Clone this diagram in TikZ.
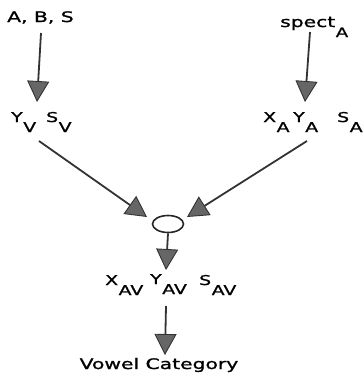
\documentclass[tikz,border=0pt]{standalone}
\usepackage{fontspec}
\setmainfont{DejaVu Sans}[FakeStretch=1.4,FakeBold=1.2]
\usetikzlibrary{arrows.meta,shapes.geometric}
% base letter with a deeply lowered subscript
\newcommand\lowsub[2]{#1\kern0.5pt\raisebox{-10pt}{#2}}
\begin{document}
\begin{tikzpicture}[x=1pt,y=-1pt,
  lbl/.style={inner sep=0pt, anchor=base west, font=\fontsize{13.5}{16}\selectfont},
  big/.style={inner sep=0pt, font=\fontsize{14.5}{17}\selectfont},
  flow/.style={draw=black!80, line width=1.8pt,
    -{Triangle[length=21pt,width=22pt,fill=black!60,line width=0.9pt]}}]
\useasboundingbox (0,0) rectangle (364,376);

% inputs
\node[big, anchor=base west] (abs) at (7,22) {A, B, S};
\node[big, anchor=base west] (spect) at (280,27) {\lowsub{spect}{\fontsize{13}{15}\selectfont A}};

% visual parameters
\node[lbl] (yv) at (11,122) {\lowsub{Y}{V}};
\node[lbl] (sv) at (46,122) {\lowsub{S}{V}};

% auditory parameters
\node[lbl] (xa) at (263,122) {\lowsub{X}{A}};
\node[lbl] (ya) at (293,122) {\lowsub{Y}{A}};
\node[lbl] (sa) at (337,122) {\lowsub{S}{A}};

% integration
\node[draw=black!85, ellipse, line width=1.6pt, minimum width=31pt,
      minimum height=17pt, inner sep=0pt] (fuse) at (168,224) {};

% combined parameters
\node[lbl] (xav) at (105,285) {\lowsub{X}{AV}};
\node[lbl] (yav) at (150,284) {\lowsub{Y}{AV}};
\node[lbl] (sav) at (199,285) {\lowsub{S}{AV}};

% output
\node[big, anchor=base] (cat) at (159,369) {Vowel Category};

% connector ends
\coordinate (absOut) at (41,33);
\coordinate (vIn) at (37,102);
\coordinate (spOut) at (310,32);
\coordinate (aIn) at (305,102);
\coordinate (vOut) at (39,141);
\coordinate (aOut) at (307,141);
\coordinate (fuseL) at (147,217);
\coordinate (fuseR) at (187,217);
\coordinate (avIn) at (166,270);
\coordinate (avOut) at (166,306);
\coordinate (catIn) at (165,355);

\draw[flow] (absOut) -- (vIn);
\draw[flow] (spOut) -- (aIn);
\draw[flow] (vOut) -- (fuseL);
\draw[flow] (aOut) -- (fuseR);
\draw[flow] (fuse.south) -- (avIn);
\draw[flow] (avOut) -- (catIn);
\end{tikzpicture}
\end{document}
